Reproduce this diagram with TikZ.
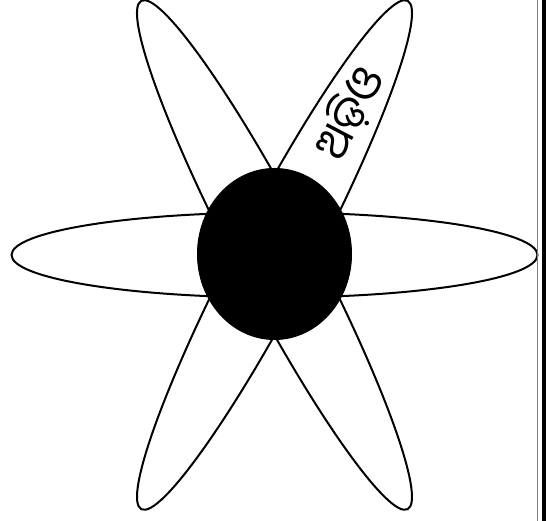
\documentclass[tikz,border=0pt]{standalone}
\usepackage{fontspec}
\newfontfamily\oriyafont[Script=Oriya]{Noto Sans Oriya UI}
\tikzset{
  petal/.style={draw=black, line width=2pt},
  core/.style={draw=black, fill=black, line width=1pt},
  lbl/.style={font=\oriyafont\fontsize{45}{45}\selectfont, inner sep=0pt}
}
\begin{document}
\begin{tikzpicture}[x=1pt,y=1pt]
\useasboundingbox (0,0) rectangle (547,521);
\coordinate (c) at (274.5,266);
\draw[petal] (c) ellipse [x radius=263, y radius=42.5];
\draw[petal, rotate around={62.35:(c)}] (c) ellipse [x radius=287, y radius=38.5];
\draw[petal, rotate around={-62.35:(c)}] (c) ellipse [x radius=287, y radius=38.5];
\draw[core] (274.5,267) ellipse [x radius=77, y radius=85.5];
\node[lbl, rotate=62.35] (label) at (349,408) {ଅଡ଼ିଓ};
\draw[gray, line width=1pt] (537,0) -- (537,521);
\draw[black, line width=3.6pt] (544,0) -- (544,521);
\end{tikzpicture}
\end{document}
